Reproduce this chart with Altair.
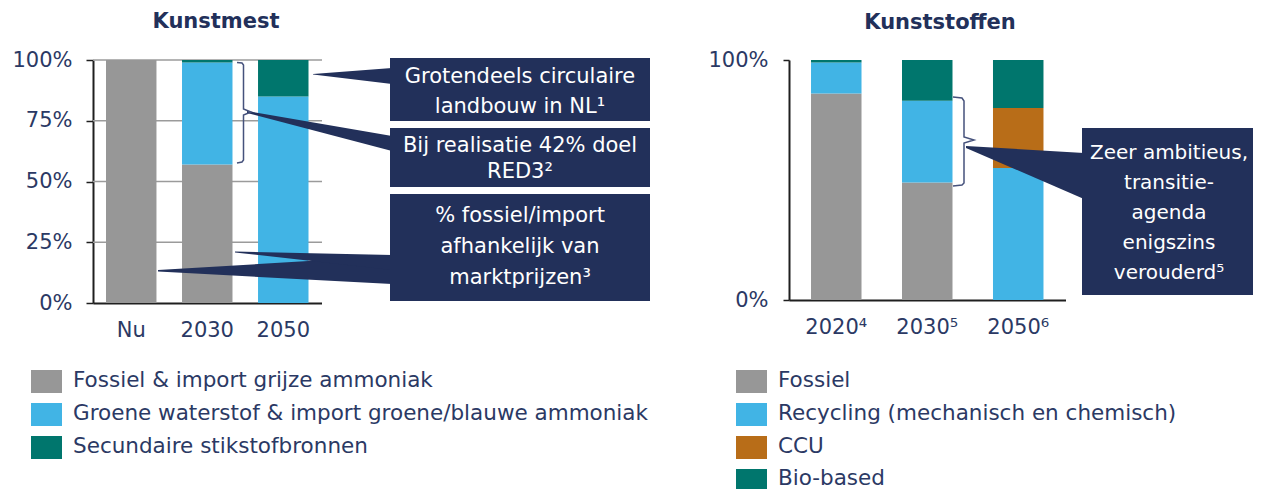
import altair as alt
import pandas as pd

# ---------------- data ----------------
km_years = ["Nu", "2030", "2050"]
km_cats = ["Fossiel & import grijze ammoniak",
           "Groene waterstof & import groene/blauwe ammoniak",
           "Secundaire stikstofbronnen"]
km_fossiel = [100, 57, 0]
km_groen = [0, 42, 85]
km_secundair = [0, 1, 15]

ks_years = ["2020\u2074", "2030\u2075", "2050\u2076"]
ks_cats = ["Fossiel", "Recycling (mechanisch en chemisch)", "CCU", "Bio-based"]
ks_fossiel = [86, 49, 0]
ks_recycling = [13, 34, 55]
ks_ccu = [0, 0, 25]
ks_bio = [1, 17, 20]

title_left = "Kunstmest"
title_right = "Kunststoffen"
callout_1 = ["Grotendeels circulaire", "landbouw in NL\u00b9"]
callout_2 = ["Bij realisatie 42% doel", "RED3\u00b2"]
callout_3 = ["% fossiel/import", "afhankelijk van", "marktprijzen\u00b3"]
callout_4 = ["Zeer ambitieus,", "transitie-", "agenda", "enigszins", "verouderd\u2075"]

# ---------------- styles ----------------
km_colors = ["#979797", "#41b4e5", "#00766d"]
ks_colors = ["#979797", "#41b4e5", "#b86d18", "#00766d"]
FONT = "DejaVu Sans"
FS = 21
NAVY = "#22305a"
TXT = "#2b3964"
DARK = "#1f1f1f"
GRID = "#9b9b9b"
BRACKET = "#46527c"

W, H = 1245, 481


def cx(v):
    # page pixel -> chart pixel (page has 8px margin)
    return v - 8


def long_frame(years, cats, series):
    rows = []
    for i, yr in enumerate(years):
        for k, (cat, vals) in enumerate(zip(cats, series)):
            rows.append({"jaar": yr, "bron": cat, "aandeel": vals[i] / 100.0, "k": k})
    return pd.DataFrame(rows)


km_df = long_frame(km_years, km_cats, [km_fossiel, km_groen, km_secundair])
ks_df = long_frame(ks_years, ks_cats, [ks_fossiel, ks_recycling, ks_ccu, ks_bio])

# ---------------- left panel ----------------
km_yscale = alt.Scale(domain=[0, 1], range=[cx(303), cx(60)], nice=False, zero=False)
km_yaxis = alt.Axis(orient="left", offset=-cx(93), values=[0, 0.25, 0.5, 0.75, 1],
                    format=".0%", tickSize=7, tickColor=DARK, tickWidth=1.5,
                    domainColor=DARK, domainWidth=2, labelPadding=14,
                    labelFont=FONT, labelFontSize=FS, labelColor=TXT, grid=False)
km_xscale = alt.Scale(domain=km_years, range=[cx(93), cx(321.5)],
                      paddingInner=0.336, paddingOuter=0.171)
km_xaxis = alt.Axis(orient="bottom", offset=cx(303) - H, ticks=False, tickSize=0,
                    labelAngle=0, labelPadding=16, domainColor=DARK, domainWidth=2,
                    labelFont=FONT, labelFontSize=FS, labelColor=TXT, grid=False)

km_grid = alt.Chart(pd.DataFrame({"v": [0.25, 0.5, 0.75, 1.0]})).mark_rule(
    color=GRID, strokeWidth=1.5).encode(
    y=alt.Y("v:Q", scale=km_yscale, axis=km_yaxis, title=None),
    x=alt.value(cx(93)), x2=alt.value(cx(322)))

km_bars = alt.Chart(km_df).mark_bar().encode(
    x=alt.X("jaar:N", sort=km_years, title=None, scale=km_xscale, axis=km_xaxis),
    y=alt.Y("aandeel:Q", stack="zero", title=None, scale=km_yscale, axis=km_yaxis),
    color=alt.Color("bron:N", scale=alt.Scale(domain=km_cats, range=km_colors), legend=None),
    order=alt.Order("k:Q"))

left_group = alt.layer(km_grid, km_bars)

# ---------------- right panel ----------------
ks_bars = alt.Chart(ks_df).mark_bar().encode(
    x=alt.X("jaar:N", sort=ks_years, title=None,
            scale=alt.Scale(domain=ks_years, range=[cx(789), cx(1065.5)],
                            paddingInner=0.445, paddingOuter=0.242),
            axis=alt.Axis(orient="bottom", offset=cx(300) - H, ticks=False, tickSize=0,
                          labelAngle=0, labelPadding=16, domainColor=DARK, domainWidth=2,
                          labelFont=FONT, labelFontSize=FS, labelColor=TXT, grid=False)),
    y=alt.Y("aandeel:Q", stack="zero", title=None,
            scale=alt.Scale(domain=[0, 1], range=[cx(300), cx(60)], nice=False, zero=False),
            axis=alt.Axis(orient="left", offset=-cx(789), values=[0, 1],
                          format=".0%", tickSize=6, tickColor=DARK, tickWidth=1.5,
                          domainColor=DARK, domainWidth=2, labelPadding=15,
                          labelFont=FONT, labelFontSize=FS, labelColor=TXT, grid=False)),
    color=alt.Color("bron:N", scale=alt.Scale(domain=ks_cats, range=ks_colors), legend=None),
    order=alt.Order("k:Q"))

right_group = alt.layer(ks_bars)

# ---------------- annotations (page-pixel scales) ----------------
PX = alt.Scale(domain=[8, 8 + W], range=[0, W], nice=False, zero=False)
PY = alt.Scale(domain=[8, 8 + H], range=[0, H], nice=False, zero=False)


def X(f="x"):
    return alt.X(f"{f}:Q", scale=PX, axis=None)


def Y(f="y"):
    return alt.Y(f"{f}:Q", scale=PY, axis=None, stack=None)


# callout boxes
boxes = pd.DataFrame([
    {"x": 390, "x2": 650, "y": 58, "y2": 121},
    {"x": 390, "x2": 650, "y": 128, "y2": 187},
    {"x": 390, "x2": 650, "y": 194, "y2": 301},
    {"x": 1082, "x2": 1262, "y": 128, "y2": 295},
])
box_layer = alt.Chart(boxes).mark_rect(color=NAVY).encode(
    x=X(), x2="x2:Q", y=Y(), y2="y2:Q")

# pointer wedges
wedges = pd.DataFrame([
    {"id": "w1", "x": 313, "y": 74, "y2": 74.5}, {"id": "w1", "x": 392, "y": 68, "y2": 84},
    {"id": "w2", "x": 247, "y": 111, "y2": 113}, {"id": "w2", "x": 392, "y": 136, "y2": 151},
    {"id": "w3", "x": 158, "y": 270, "y2": 271.5}, {"id": "w3", "x": 392, "y": 256, "y2": 284},
    {"id": "w4", "x": 235, "y": 251.5, "y2": 252.5}, {"id": "w4", "x": 392, "y": 255, "y2": 270},
    {"id": "w5", "x": 966, "y": 146, "y2": 148}, {"id": "w5", "x": 1084, "y": 153, "y2": 199},
])
wedge_layer = alt.Chart(wedges).mark_area(color=NAVY, interpolate="linear", orient="vertical").encode(
    x=X(), y=Y(), y2="y2:Q", detail="id:N")

# brackets
brackets = pd.DataFrame([
    {"id": "b1", "i": 0, "x": 237, "y": 62.5}, {"id": "b1", "i": 1, "x": 242, "y": 63},
    {"id": "b1", "i": 2, "x": 243.5, "y": 65}, {"id": "b1", "i": 3, "x": 243.5, "y": 109},
    {"id": "b1", "i": 4, "x": 251, "y": 112}, {"id": "b1", "i": 5, "x": 243.5, "y": 115},
    {"id": "b1", "i": 6, "x": 243.5, "y": 160}, {"id": "b1", "i": 7, "x": 242, "y": 162},
    {"id": "b1", "i": 8, "x": 237, "y": 163},
    {"id": "b2", "i": 0, "x": 953, "y": 97}, {"id": "b2", "i": 1, "x": 962, "y": 98},
    {"id": "b2", "i": 2, "x": 964, "y": 101}, {"id": "b2", "i": 3, "x": 964, "y": 137},
    {"id": "b2", "i": 4, "x": 974, "y": 140}, {"id": "b2", "i": 5, "x": 964, "y": 143},
    {"id": "b2", "i": 6, "x": 964, "y": 183}, {"id": "b2", "i": 7, "x": 962, "y": 185},
    {"id": "b2", "i": 8, "x": 953, "y": 186},
])
bracket_layer = alt.Chart(brackets).mark_line(color=BRACKET, strokeWidth=1.5).encode(
    x=X(), y=Y(), order="i:Q", detail="id:N")

# callout texts
txt_rows = []
for lines, xc, ys, fs in [(callout_1, 520, [77, 107], FS),
                          (callout_2, 520, [146, 172], FS),
                          (callout_3, 520, [216, 247, 278], FS),
                          (callout_4, 1169, [153, 183, 213, 243, 273], FS - 1)]:
    for ln, yy in zip(lines, ys):
        txt_rows.append({"t": ln, "x": xc, "y": yy, "fs": fs})
callout_text = alt.Chart(pd.DataFrame(txt_rows)).mark_text(
    color="white", font=FONT, align="center", baseline="middle").encode(
    x=X(), y=Y(), text="t:N", size=alt.Size("fs:Q", scale=None, legend=None))

# titles
titles = pd.DataFrame([{"t": title_left, "x": 216, "y": 22}, {"t": title_right, "x": 940, "y": 23}])
title_layer = alt.Chart(titles).mark_text(
    color=NAVY, font=FONT, fontSize=FS, fontWeight="bold", align="center", baseline="middle").encode(
    x=X(), y=Y(), text="t:N")

# legends
leg_rows = []
for cats, x0 in [(km_cats, 31), (ks_cats, 736)]:
    for i, c in enumerate(cats):
        leg_rows.append({"bron": c, "x": x0, "x2": x0 + 31, "y": 370 + 33 * i,
                         "y2": 393 + 33 * i, "ty": 381 + 32.8 * i, "tx": x0 + 42})
leg_df = pd.DataFrame(leg_rows)
leg_rect = alt.Chart(leg_df).mark_rect().encode(
    x=X(), x2="x2:Q", y=Y(), y2="y2:Q",
    color=alt.Color("bron:N", scale=alt.Scale(domain=km_cats + ks_cats, range=km_colors + ks_colors),
                    legend=None))
leg_text = alt.Chart(leg_df).mark_text(
    color=TXT, font=FONT, fontSize=FS + 0.5, align="left", baseline="middle").encode(
    x=X("tx"), y=Y("ty"), text="bron:N")

annot_group = alt.layer(wedge_layer, box_layer, bracket_layer, callout_text, title_layer,
                        leg_rect, leg_text)

chart = alt.layer(left_group, right_group, annot_group).resolve_scale(
    x="independent", y="independent", color="independent", size="independent").resolve_axis(
    x="independent", y="independent").properties(
    width=W, height=H, autosize=alt.AutoSizeParams(type="none"), padding=0,
    background="white").configure_view(strokeWidth=0)

chart.save("out.html", embed_options={"renderer": "svg", "actions": False})
